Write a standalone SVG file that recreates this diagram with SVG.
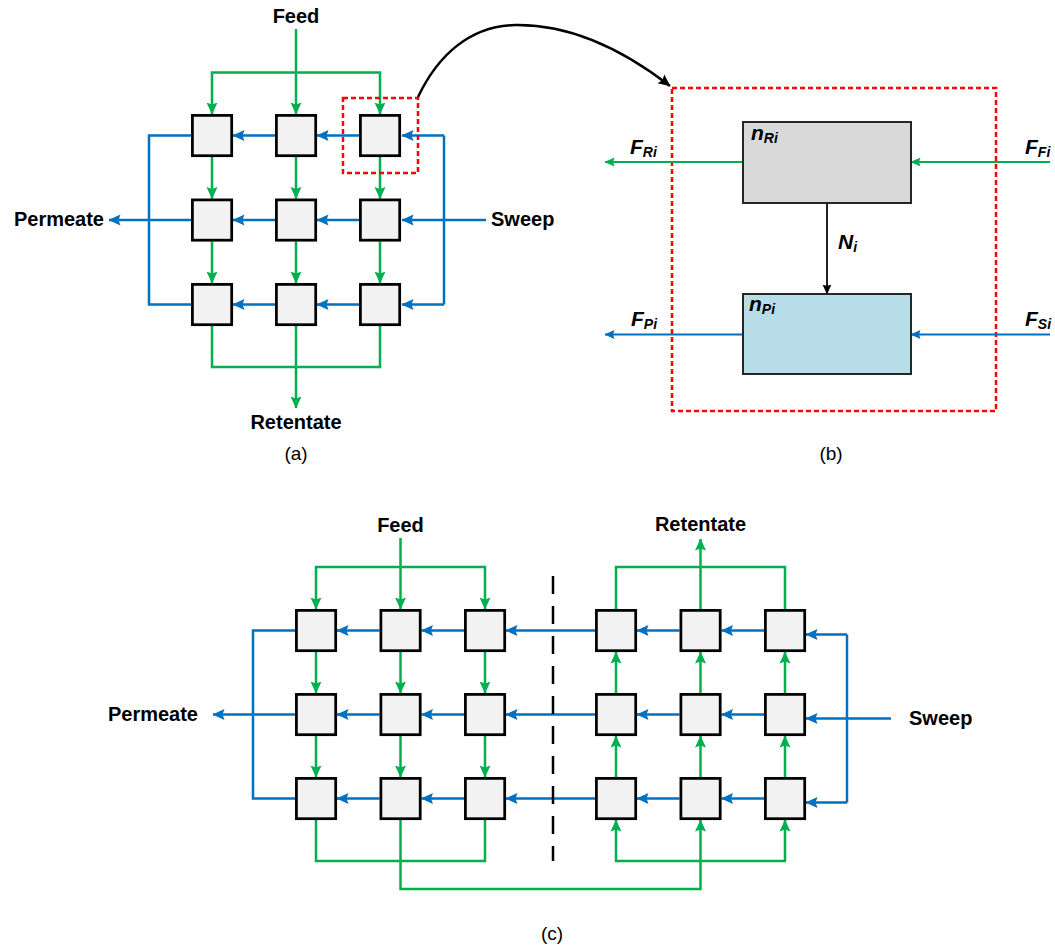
<svg xmlns="http://www.w3.org/2000/svg" width="1055" height="949" viewBox="0 0 1055 949">
  <defs>
    <marker id="ag" viewBox="0 0 12 12" refX="11.5" refY="6" markerWidth="12" markerHeight="12" markerUnits="userSpaceOnUse" orient="auto">
      <path d="M0,0.5 L12,6 L0,11.5 L2,6 Z" fill="#00b050"/>
    </marker>
    <marker id="ab" viewBox="0 0 12 12" refX="11.5" refY="6" markerWidth="12" markerHeight="12" markerUnits="userSpaceOnUse" orient="auto">
      <path d="M0,0.5 L12,6 L0,11.5 L2,6 Z" fill="#0070c0"/>
    </marker>
    <marker id="ak" viewBox="0 0 12 12" refX="11.5" refY="6" markerWidth="12" markerHeight="12" markerUnits="userSpaceOnUse" orient="auto">
      <path d="M0,0.5 L12,6 L0,11.5 L2,6 Z" fill="#000"/>
    </marker>
    <marker id="ak2" viewBox="0 0 10 10" refX="9.5" refY="5" markerWidth="10" markerHeight="10" markerUnits="userSpaceOnUse" orient="auto">
      <path d="M0,0.5 L10,5 L0,9.5 L1.5,5 Z" fill="#000"/>
    </marker>
    <marker id="ag2" viewBox="0 0 10 10" refX="9.5" refY="5" markerWidth="10" markerHeight="10" markerUnits="userSpaceOnUse" orient="auto">
      <path d="M0,0.5 L10,5 L0,9.5 L1.5,5 Z" fill="#00b050"/>
    </marker>
    <marker id="ab2" viewBox="0 0 10 10" refX="9.5" refY="5" markerWidth="10" markerHeight="10" markerUnits="userSpaceOnUse" orient="auto">
      <path d="M0,0.5 L10,5 L0,9.5 L1.5,5 Z" fill="#0070c0"/>
    </marker>
  </defs>
  <style>
    .g { fill: none; stroke: #00b050; stroke-width: 2.5; }
    .b { fill: none; stroke: #0070c0; stroke-width: 2.5; }
    .ga { marker-end: url(#ag); }
    .ba { marker-end: url(#ab); }
    .cell { fill: #f2f2f2; stroke: #000; stroke-width: 2.75; }
    .red { fill: none; stroke: #ff0000; stroke-width: 2.5; stroke-dasharray: 5 3; }
    .lbl { font-family: "Liberation Sans", Arial, sans-serif; font-weight: bold; font-size: 20px; fill: #000; }
    .cap { font-family: "Liberation Sans", Arial, sans-serif; font-size: 19px; fill: #000; text-anchor: middle; }
    .var { font-family: "Liberation Sans", Arial, sans-serif; font-weight: bold; font-style: italic; font-size: 21px; fill: #000; }
    .sub { font-size: 14px; }
  </style>

  <!-- ===== (a) flow network: connectors ===== -->
  <g id="connectors-a">
    <!-- feed distribution -->
    <path class="g ga" d="M296,29 V114"/>
    <path class="g ga" d="M296,72.5 H212 V114"/>
    <path class="g ga" d="M296,72.5 H380 V114"/>
    <!-- retentate side, row to row -->
    <path class="g ga" d="M212,157 V198.5"/>
    <path class="g ga" d="M296,157 V198.5"/>
    <path class="g ga" d="M380,157 V198.5"/>
    <path class="g ga" d="M212,241.5 V283"/>
    <path class="g ga" d="M296,241.5 V283"/>
    <path class="g ga" d="M380,241.5 V283"/>
    <!-- retentate collection -->
    <path class="g" d="M212,326 V367 H380 V326"/>
    <path class="g ga" d="M296,326 V408"/>
    <!-- permeate side, column to column -->
    <path class="b ba" d="M275,135.5 H233"/>
    <path class="b ba" d="M359,135.5 H317"/>
    <path class="b ba" d="M275,220 H233"/>
    <path class="b ba" d="M359,220 H317"/>
    <path class="b ba" d="M275,304.5 H233"/>
    <path class="b ba" d="M359,304.5 H317"/>
    <!-- permeate collection -->
    <path class="b" d="M191,135.5 H149 V304.5 H191"/>
    <path class="b ba" d="M191,220 H109"/>
    <!-- sweep distribution -->
    <path class="b" d="M444,135.5 V304.5"/>
    <path class="b ba" d="M444,135.5 H402"/>
    <path class="b ba" d="M444,304.5 H402"/>
    <path class="b ba" d="M486,220 H402"/>
    <!-- detail callout -->
    <rect class="red" x="343" y="98" width="75" height="75"/>
    <path d="M418,97 C438,55 470,26 515,25 C575,24 630,55 670,86" fill="none" stroke="#000" stroke-width="2.5" marker-end="url(#ak)"/>
  </g>

  <!-- ===== (a) flow network: cells ===== -->
  <g id="a-r1c1"><rect class="cell" x="192.4" y="115.4" width="39.3" height="40.3"/></g>
  <g id="a-r1c2"><rect class="cell" x="276.4" y="115.4" width="39.3" height="40.3"/></g>
  <g id="a-r1c3"><rect class="cell" x="360.4" y="115.4" width="39.3" height="40.3"/></g>
  <g id="a-r2c1"><rect class="cell" x="192.4" y="199.9" width="39.3" height="40.3"/></g>
  <g id="a-r2c2"><rect class="cell" x="276.4" y="199.9" width="39.3" height="40.3"/></g>
  <g id="a-r2c3"><rect class="cell" x="360.4" y="199.9" width="39.3" height="40.3"/></g>
  <g id="a-r3c1"><rect class="cell" x="192.4" y="284.4" width="39.3" height="40.3"/></g>
  <g id="a-r3c2"><rect class="cell" x="276.4" y="284.4" width="39.3" height="40.3"/></g>
  <g id="a-r3c3"><rect class="cell" x="360.4" y="284.4" width="39.3" height="40.3"/></g>

  <g id="labels-a">
    <text class="lbl" x="296" y="23" text-anchor="middle">Feed</text>
    <text class="lbl" x="104" y="226" text-anchor="end">Permeate</text>
    <text class="lbl" x="491" y="226">Sweep</text>
    <text class="lbl" x="296" y="429" text-anchor="middle">Retentate</text>
    <text class="cap" x="296" y="460">(a)</text>
  </g>

  <!-- ===== (b) single cell balance ===== -->
  <g id="connectors-b">
    <rect class="red" x="672" y="88" width="324" height="323"/>
    <path d="M743,162 H605" fill="none" stroke="#00b050" stroke-width="2" marker-end="url(#ag2)"/>
    <path d="M1050,162 H911" fill="none" stroke="#00b050" stroke-width="2" marker-end="url(#ag2)"/>
    <path d="M743,334.5 H605" fill="none" stroke="#0070c0" stroke-width="2" marker-end="url(#ab2)"/>
    <path d="M1050,334.5 H911" fill="none" stroke="#0070c0" stroke-width="2" marker-end="url(#ab2)"/>
    <path d="M827,203 V294" fill="none" stroke="#000" stroke-width="1.75" marker-end="url(#ak2)"/>
  </g>
  <g id="b-retentate">
    <rect x="743" y="122" width="168" height="81" fill="#d9d9d9" stroke="#262626" stroke-width="2"/>
    <text class="var" x="751" y="140">n<tspan class="sub" dy="3">Ri</tspan></text>
  </g>
  <g id="b-permeate">
    <rect x="743" y="294" width="168" height="80" fill="#b7dde8" stroke="#262626" stroke-width="2"/>
    <text class="var" x="749" y="311">n<tspan class="sub" dy="3">Pi</tspan></text>
  </g>
  <g id="labels-b">
    <text class="var" x="630" y="154">F<tspan class="sub" dy="3">Ri</tspan></text>
    <text class="var" x="1025" y="154">F<tspan class="sub" dy="3">Fi</tspan></text>
    <text class="var" x="838" y="249">N<tspan class="sub" dy="3">i</tspan></text>
    <text class="var" x="631" y="326">F<tspan class="sub" dy="3">Pi</tspan></text>
    <text class="var" x="1025" y="326">F<tspan class="sub" dy="3">Si</tspan></text>
    <text class="cap" x="831" y="460">(b)</text>
  </g>

  <!-- ===== (c) two-stage network ===== -->
  <g id="connectors-c">
    <!-- feed distribution, first stage -->
    <path class="g ga" d="M400.5,538 V609"/>
    <path class="g ga" d="M400.5,567 H316 V609"/>
    <path class="g ga" d="M400.5,567 H485 V609"/>
    <path class="g ga" d="M316,652 V693"/>
    <path class="g ga" d="M400.5,652 V693"/>
    <path class="g ga" d="M485,652 V693"/>
    <path class="g ga" d="M316,736 V777"/>
    <path class="g ga" d="M400.5,736 V777"/>
    <path class="g ga" d="M485,736 V777"/>
    <path class="g" d="M316,820 V861 H485 V820"/>
    <!-- transfer to second stage -->
    <path class="g ga" d="M400.5,820 V889 H700.5 V820"/>
    <path class="g ga" d="M700.5,861 H616 V820"/>
    <path class="g ga" d="M700.5,861 H785 V820"/>
    <!-- second stage, upward -->
    <path class="g ga" d="M616,777 V736"/>
    <path class="g ga" d="M700.5,777 V736"/>
    <path class="g ga" d="M785,777 V736"/>
    <path class="g ga" d="M616,693 V652"/>
    <path class="g ga" d="M700.5,693 V652"/>
    <path class="g ga" d="M785,693 V652"/>
    <path class="g" d="M616,609 V567 H785 V609"/>
    <path class="g ga" d="M700.5,609 V539"/>
    <!-- permeate side -->
    <path class="b ba" d="M379.5,630.5 H337"/>
    <path class="b ba" d="M464,630.5 H421.5"/>
    <path class="b ba" d="M595,630.5 H506"/>
    <path class="b ba" d="M679.5,630.5 H637"/>
    <path class="b ba" d="M764,630.5 H721.5"/>
    <path class="b ba" d="M379.5,714.5 H337"/>
    <path class="b ba" d="M464,714.5 H421.5"/>
    <path class="b ba" d="M595,714.5 H506"/>
    <path class="b ba" d="M679.5,714.5 H637"/>
    <path class="b ba" d="M764,714.5 H721.5"/>
    <path class="b ba" d="M379.5,798.5 H337"/>
    <path class="b ba" d="M464,798.5 H421.5"/>
    <path class="b ba" d="M595,798.5 H506"/>
    <path class="b ba" d="M679.5,798.5 H637"/>
    <path class="b ba" d="M764,798.5 H721.5"/>
    <path class="b" d="M295,630.5 H253 V798.5 H295"/>
    <path class="b ba" d="M295,714.5 H213"/>
    <path class="b" d="M847,634.5 V802.5"/>
    <path class="b ba" d="M847,634.5 H806"/>
    <path class="b ba" d="M847,802.5 H806"/>
    <path class="b ba" d="M891,718.5 H806"/>
    <!-- stage boundary -->
    <path d="M553,576 V861" fill="none" stroke="#000" stroke-width="2.5" stroke-dasharray="18 12"/>
  </g>

  <g id="c-s1-r1c1"><rect class="cell" x="296.4" y="610.4" width="39.3" height="40.3"/></g>
  <g id="c-s1-r1c2"><rect class="cell" x="380.9" y="610.4" width="39.3" height="40.3"/></g>
  <g id="c-s1-r1c3"><rect class="cell" x="465.4" y="610.4" width="39.3" height="40.3"/></g>
  <g id="c-s1-r2c1"><rect class="cell" x="296.4" y="694.4" width="39.3" height="40.3"/></g>
  <g id="c-s1-r2c2"><rect class="cell" x="380.9" y="694.4" width="39.3" height="40.3"/></g>
  <g id="c-s1-r2c3"><rect class="cell" x="465.4" y="694.4" width="39.3" height="40.3"/></g>
  <g id="c-s1-r3c1"><rect class="cell" x="296.4" y="778.4" width="39.3" height="40.3"/></g>
  <g id="c-s1-r3c2"><rect class="cell" x="380.9" y="778.4" width="39.3" height="40.3"/></g>
  <g id="c-s1-r3c3"><rect class="cell" x="465.4" y="778.4" width="39.3" height="40.3"/></g>

  <g id="c-s2-r1c1"><rect class="cell" x="596.4" y="610.4" width="39.3" height="40.3"/></g>
  <g id="c-s2-r1c2"><rect class="cell" x="680.9" y="610.4" width="39.3" height="40.3"/></g>
  <g id="c-s2-r1c3"><rect class="cell" x="765.4" y="610.4" width="39.3" height="40.3"/></g>
  <g id="c-s2-r2c1"><rect class="cell" x="596.4" y="694.4" width="39.3" height="40.3"/></g>
  <g id="c-s2-r2c2"><rect class="cell" x="680.9" y="694.4" width="39.3" height="40.3"/></g>
  <g id="c-s2-r2c3"><rect class="cell" x="765.4" y="694.4" width="39.3" height="40.3"/></g>
  <g id="c-s2-r3c1"><rect class="cell" x="596.4" y="778.4" width="39.3" height="40.3"/></g>
  <g id="c-s2-r3c2"><rect class="cell" x="680.9" y="778.4" width="39.3" height="40.3"/></g>
  <g id="c-s2-r3c3"><rect class="cell" x="765.4" y="778.4" width="39.3" height="40.3"/></g>

  <g id="labels-c">
    <text class="lbl" x="400.5" y="532" text-anchor="middle">Feed</text>
    <text class="lbl" x="700.5" y="531" text-anchor="middle">Retentate</text>
    <text class="lbl" x="198" y="721" text-anchor="end">Permeate</text>
    <text class="lbl" x="909" y="725">Sweep</text>
    <text class="cap" x="552" y="940">(c)</text>
  </g>
</svg>
